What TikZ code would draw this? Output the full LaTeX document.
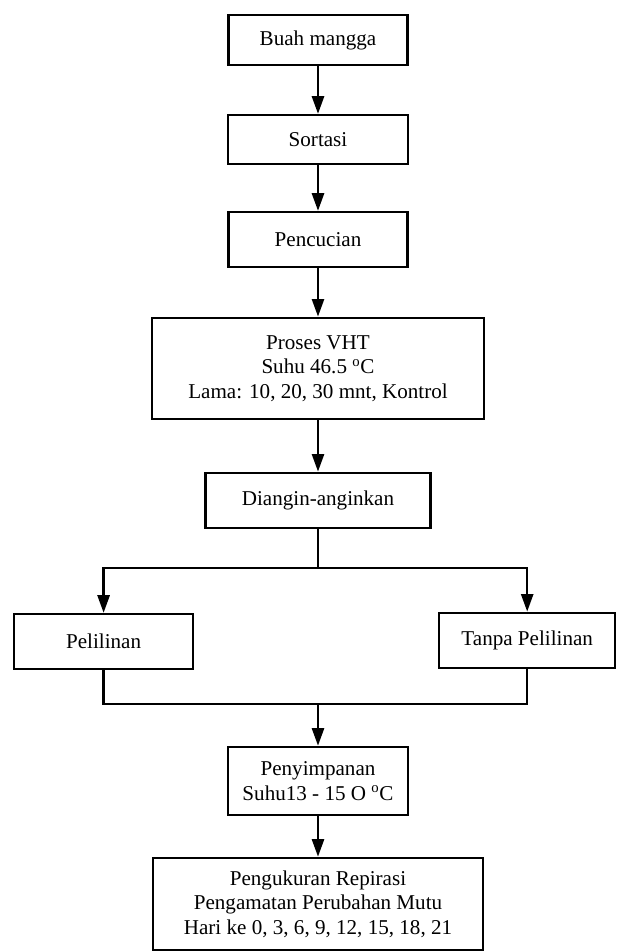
\documentclass[tikz,border=0pt]{standalone}
\usepackage{fontspec}
\setmainfont{Liberation Serif}
\usetikzlibrary{arrows.meta,positioning}

\begin{document}
\begin{tikzpicture}[font=\fontsize{15}{17.5}\selectfont,
    box/.style={draw=black,fill=white,line width=1.8pt,align=center,inner sep=1pt},
    line/.style={black,line width=1.8pt},
    arr/.style={-{Triangle[length=4.4mm,width=3mm]},black,line width=1.8pt}]

  \useasboundingbox (0,0) rectangle (15.4,-23.775);

  \node[box,minimum width=4.475cm,minimum height=1.25cm]  (mangga) at (7.95,-1.0)   {Buah mangga};
  \node[box,minimum width=4.5cm,minimum height=1.225cm]   (sortasi) at (7.95,-3.49) {Sortasi};
  \node[box,minimum width=4.475cm,minimum height=1.375cm] (cuci) at (7.95,-5.99)    {Pencucian};
  \node[box,minimum width=8.3cm,minimum height=2.525cm]   (vht) at (7.95,-9.21)
    {Proses VHT\\Suhu 46.5 \textsuperscript{o}C\\Lama: 10, 20, 30 mnt, Kontrol};
  \node[box,minimum width=5.625cm,minimum height=1.375cm] (angin) at (7.95,-12.51)  {Diangin-anginkan};
  \node[box,minimum width=4.475cm,minimum height=1.375cm] (lilin) at (2.59,-16.04)  {Pelilinan};
  \node[box,minimum width=4.4cm,minimum height=1.375cm]   (tanpa) at (13.18,-16.01) {Tanpa Pelilinan};
  \node[box,minimum width=4.5cm,minimum height=1.7cm]     (simpan) at (7.95,-19.525)
    {Penyimpanan\\Suhu13 - 15 O \textsuperscript{o}C};
  \node[box,minimum width=8.25cm,minimum height=2.3cm]    (ukur) at (7.95,-22.6)
    {Pengukuran Repirasi\\Pengamatan Perubahan Mutu\\Hari ke 0, 3, 6, 9, 12, 15, 18, 21};

  \coordinate (split) at (7.95,-14.2);
  \coordinate (join) at (7.95,-17.6);

  \draw[arr] (mangga) -- (sortasi);
  \draw[arr] (sortasi) -- (cuci);
  \draw[arr] (cuci) -- (vht);
  \draw[arr] (vht) -- (angin);
  \draw[line] (angin) -- (split);
  \draw[arr] (split) -| (lilin.north);
  \draw[arr] (split) -| (tanpa.north);
  \draw[line] (lilin.south) |- (join);
  \draw[line] (tanpa.south) |- (join);
  \draw[arr] (join) -- (simpan);
  \draw[arr] (simpan) -- (ukur);
\end{tikzpicture}
\end{document}
